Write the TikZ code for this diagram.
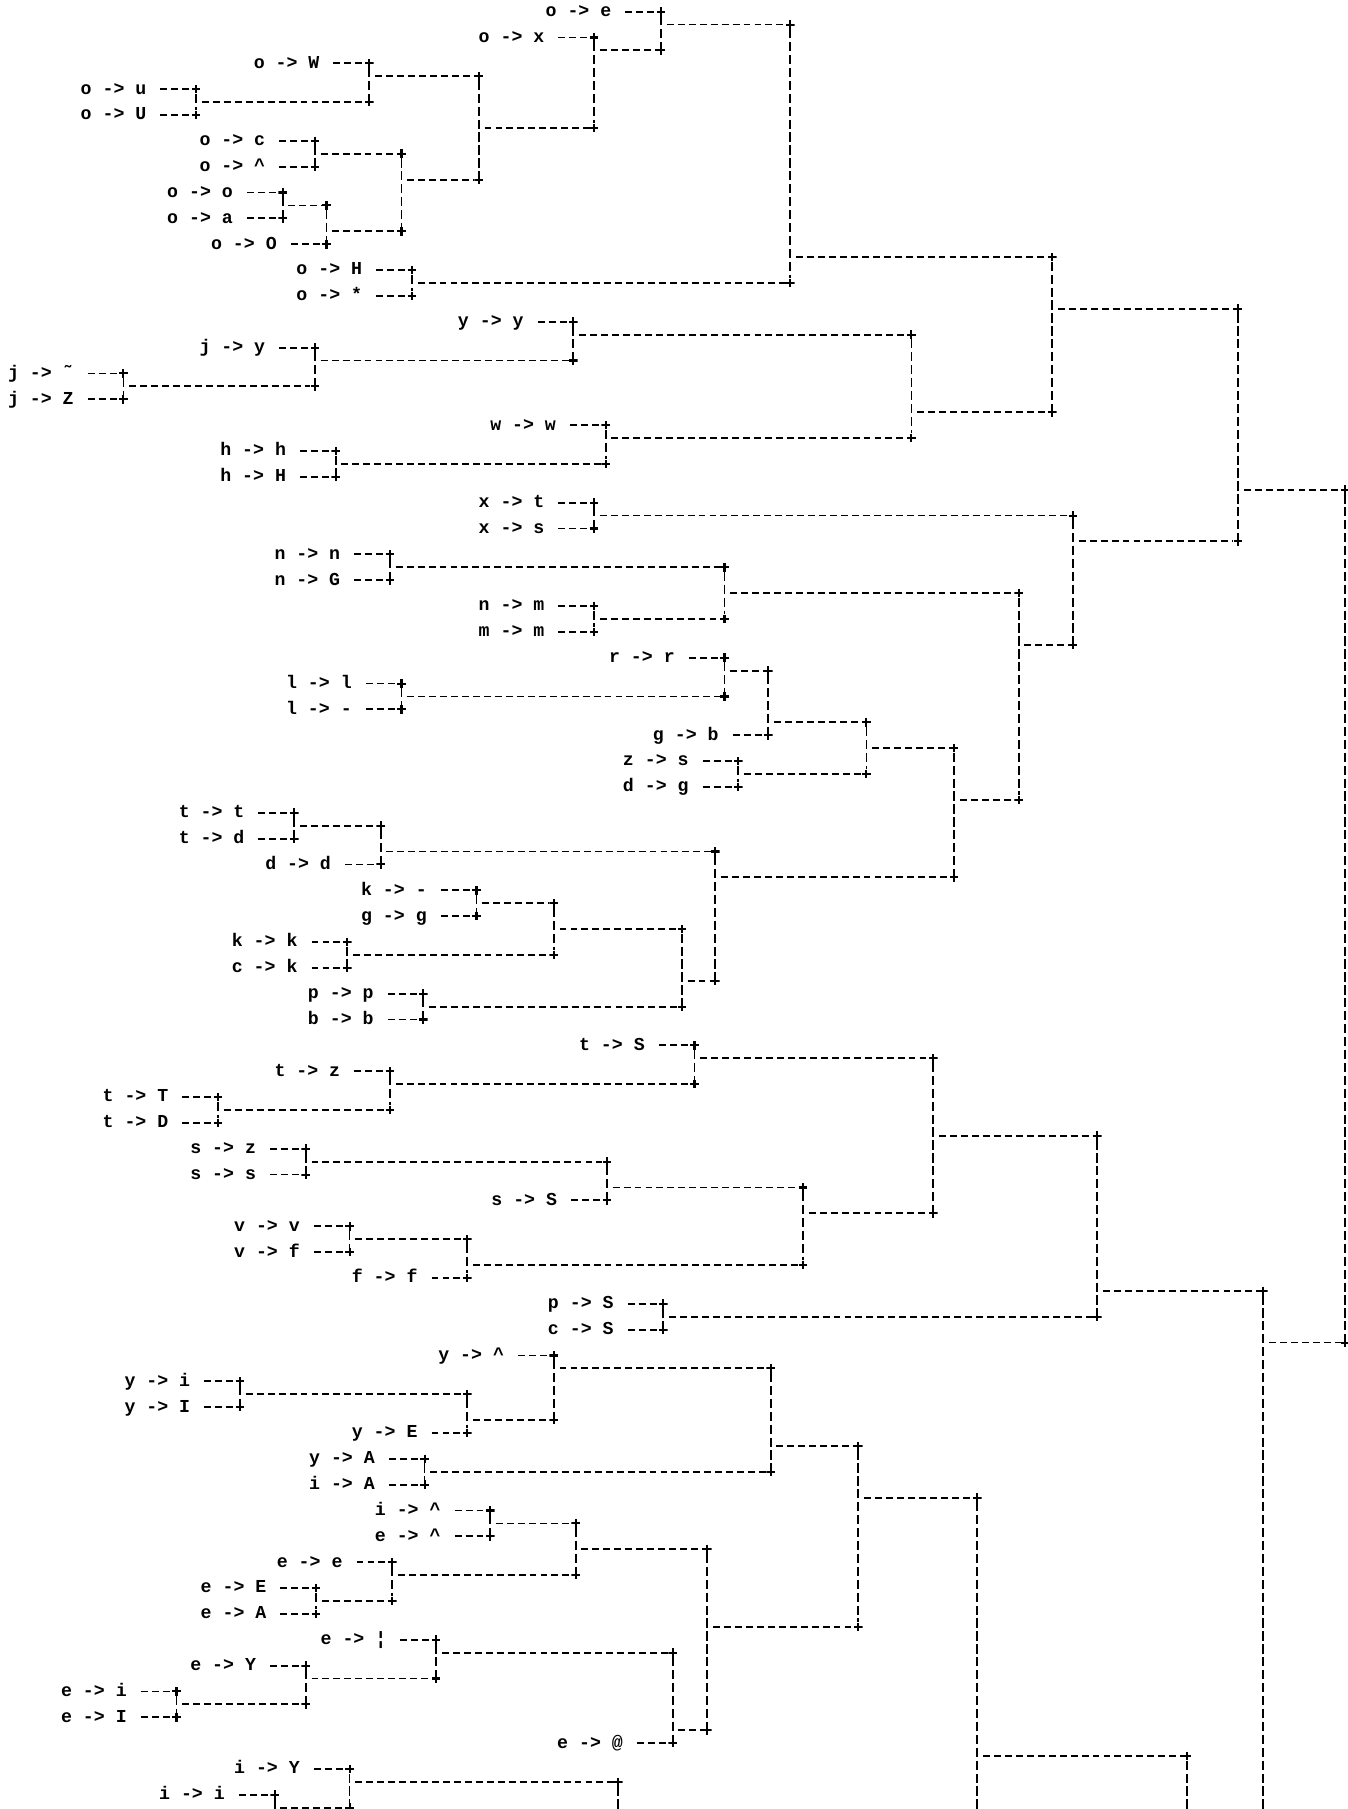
\documentclass[tikz,border=0pt]{standalone}
\usepackage{fontspec}
\setmonofont{Liberation Mono}
\usetikzlibrary{positioning}
\newcommand{\treefont}{\ttfamily\bfseries\fontsize{15.8}{18}\selectfont}

\begin{document}
\begin{tikzpicture}[
    x=1pt, y=-11.2pt,
    leaf/.style={font=\treefont, inner sep=0pt, text height=11pt, text depth=2.5pt},
    pl/.style={rectangle, inner sep=0pt, minimum size=7.5pt,
      path picture={\draw[solid, line width=1.8pt] (path picture bounding box.north) -- (path picture bounding box.south) (path picture bounding box.west) -- (path picture bounding box.east);}},
    hline/.style={line width=1.6pt, dash pattern=on 6pt off 3.5pt},
    vline/.style={line width=1.6pt, dash pattern=on 8pt off 3.2pt},
    lab/.style={leaf, left=39pt of #1}
  ]
  \useasboundingbox[fill=white] (0,-0.9) rectangle (1168,139.1);

  % leaves: + mark at the column of the join, label to its left
  \node[pl] (oe) at (573,0) {};
  \node[lab=oe] (oe-l) {o -> e};
  \node[pl] (ox) at (515,2) {};
  \node[lab=ox] (ox-l) {o -> x};
  \node[pl] (oW) at (320,4) {};
  \node[lab=oW] (oW-l) {o -> W};
  \node[pl] (ou) at (170,6) {};
  \node[lab=ou] (ou-l) {o -> u};
  \node[pl] (oU) at (170,8) {};
  \node[lab=oU] (oU-l) {o -> U};
  \node[pl] (oc) at (273,10) {};
  \node[lab=oc] (oc-l) {o -> c};
  \node[pl] (ocirc) at (273,12) {};
  \node[lab=ocirc] (ocirc-l) {o -> \textasciicircum};
  \node[pl] (oo) at (245,14) {};
  \node[lab=oo] (oo-l) {o -> o};
  \node[pl] (oa) at (245,16) {};
  \node[lab=oa] (oa-l) {o -> a};
  \node[pl] (oO) at (283,18) {};
  \node[lab=oO] (oO-l) {o -> O};
  \node[pl] (oH) at (357,20) {};
  \node[lab=oH] (oH-l) {o -> H};
  \node[pl] (oast) at (357,22) {};
  \node[lab=oast] (oast-l) {o -> *};
  \node[pl] (yy) at (497,24) {};
  \node[lab=yy] (yy-l) {y -> y};
  \node[pl] (jy) at (273,26) {};
  \node[lab=jy] (jy-l) {j -> y};
  \node[pl] (jtil) at (107,28) {};
  \node[lab=jtil] (jtil-l) {j -> ˜};
  \node[pl] (jZ) at (107,30) {};
  \node[lab=jZ] (jZ-l) {j -> Z};
  \node[pl] (ww) at (525,32) {};
  \node[lab=ww] (ww-l) {w -> w};
  \node[pl] (hh) at (291,34) {};
  \node[lab=hh] (hh-l) {h -> h};
  \node[pl] (hH) at (291,36) {};
  \node[lab=hH] (hH-l) {h -> H};
  \node[pl] (xt) at (515,38) {};
  \node[lab=xt] (xt-l) {x -> t};
  \node[pl] (xs) at (515,40) {};
  \node[lab=xs] (xs-l) {x -> s};
  \node[pl] (nn) at (338,42) {};
  \node[lab=nn] (nn-l) {n -> n};
  \node[pl] (nG) at (338,44) {};
  \node[lab=nG] (nG-l) {n -> G};
  \node[pl] (nm) at (515,46) {};
  \node[lab=nm] (nm-l) {n -> m};
  \node[pl] (mm) at (515,48) {};
  \node[lab=mm] (mm-l) {m -> m};
  \node[pl] (rr) at (628,50) {};
  \node[lab=rr] (rr-l) {r -> r};
  \node[pl] (ll) at (348,52) {};
  \node[lab=ll] (ll-l) {l -> l};
  \node[pl] (lhy) at (348,54) {};
  \node[lab=lhy] (lhy-l) {l -> -};
  \node[pl] (gb) at (666,56) {};
  \node[lab=gb] (gb-l) {g -> b};
  \node[pl] (zs) at (640,58) {};
  \node[lab=zs] (zs-l) {z -> s};
  \node[pl] (dg) at (640,60) {};
  \node[lab=dg] (dg-l) {d -> g};
  \node[pl] (tt) at (255,62) {};
  \node[lab=tt] (tt-l) {t -> t};
  \node[pl] (td) at (255,64) {};
  \node[lab=td] (td-l) {t -> d};
  \node[pl] (dd) at (330,66) {};
  \node[lab=dd] (dd-l) {d -> d};
  \node[pl] (khy) at (413,68) {};
  \node[lab=khy] (khy-l) {k -> -};
  \node[pl] (gg) at (413,70) {};
  \node[lab=gg] (gg-l) {g -> g};
  \node[pl] (kk) at (301,72) {};
  \node[lab=kk] (kk-l) {k -> k};
  \node[pl] (ck) at (301,74) {};
  \node[lab=ck] (ck-l) {c -> k};
  \node[pl] (pp) at (367,76) {};
  \node[lab=pp] (pp-l) {p -> p};
  \node[pl] (bb) at (367,78) {};
  \node[lab=bb] (bb-l) {b -> b};
  \node[pl] (tS) at (602,80) {};
  \node[lab=tS] (tS-l) {t -> S};
  \node[pl] (tz) at (338,82) {};
  \node[lab=tz] (tz-l) {t -> z};
  \node[pl] (tT) at (189,84) {};
  \node[lab=tT] (tT-l) {t -> T};
  \node[pl] (tD) at (189,86) {};
  \node[lab=tD] (tD-l) {t -> D};
  \node[pl] (sz) at (265,88) {};
  \node[lab=sz] (sz-l) {s -> z};
  \node[pl] (ss) at (265,90) {};
  \node[lab=ss] (ss-l) {s -> s};
  \node[pl] (sS) at (526,92) {};
  \node[lab=sS] (sS-l) {s -> S};
  \node[pl] (vv) at (303,94) {};
  \node[lab=vv] (vv-l) {v -> v};
  \node[pl] (vf) at (303,96) {};
  \node[lab=vf] (vf-l) {v -> f};
  \node[pl] (ff) at (405,98) {};
  \node[lab=ff] (ff-l) {f -> f};
  \node[pl] (pS) at (575,100) {};
  \node[lab=pS] (pS-l) {p -> S};
  \node[pl] (cS) at (575,102) {};
  \node[lab=cS] (cS-l) {c -> S};
  \node[pl] (ycirc) at (480,104) {};
  \node[lab=ycirc] (ycirc-l) {y -> \textasciicircum};
  \node[pl] (yi) at (208,106) {};
  \node[lab=yi] (yi-l) {y -> i};
  \node[pl] (yI) at (208,108) {};
  \node[lab=yI] (yI-l) {y -> I};
  \node[pl] (yE) at (405,110) {};
  \node[lab=yE] (yE-l) {y -> E};
  \node[pl] (yA) at (368,112) {};
  \node[lab=yA] (yA-l) {y -> A};
  \node[pl] (iA) at (368,114) {};
  \node[lab=iA] (iA-l) {i -> A};
  \node[pl] (icirc) at (425,116) {};
  \node[lab=icirc] (icirc-l) {i -> \textasciicircum};
  \node[pl] (ecirc) at (425,118) {};
  \node[lab=ecirc] (ecirc-l) {e -> \textasciicircum};
  \node[pl] (ee) at (340,120) {};
  \node[lab=ee] (ee-l) {e -> e};
  \node[pl] (eE) at (274,122) {};
  \node[lab=eE] (eE-l) {e -> E};
  \node[pl] (eA) at (274,124) {};
  \node[lab=eA] (eA-l) {e -> A};
  \node[pl] (ebar) at (378,126) {};
  \node[lab=ebar] (ebar-l) {e -> ¦};
  \node[pl] (eY) at (265,128) {};
  \node[lab=eY] (eY-l) {e -> Y};
  \node[pl] (ei) at (153,130) {};
  \node[lab=ei] (ei-l) {e -> i};
  \node[pl] (eI) at (153,132) {};
  \node[lab=eI] (eI-l) {e -> I};
  \node[pl] (eat) at (583,134) {};
  \node[lab=eat] (eat-l) {e -> @};
  \node[pl] (iY) at (303,136) {};
  \node[lab=iY] (iY-l) {i -> Y};
  \node[pl] (ii) at (238,138) {};
  \node[lab=ii] (ii-l) {i -> i};

  \foreach \n in {oe,ox,oW,ou,oU,oc,ocirc,oo,oa,oO,oH,oast,yy,jy,jtil,jZ,ww,hh,hH,
      xt,xs,nn,nG,nm,mm,rr,ll,lhy,gb,zs,dg,tt,td,dd,khy,gg,kk,ck,pp,bb,
      tS,tz,tT,tD,sz,ss,sS,vv,vf,ff,pS,cS,ycirc,yi,yI,yE,yA,iA,icirc,ecirc,
      ee,eE,eA,ebar,eY,ei,eI,eat,iY,ii}
    \draw[hline] ([xshift=12pt]\n-l.east) -- (\n);

  % joins: + mark where the merged cluster reaches the next column
  \node[pl] (j1) at (320,7) {};
  \node[pl] (j2) at (415,5) {};
  \node[pl] (j3) at (348,11) {};
  \node[pl] (j4) at (283,15) {};
  \node[pl] (j5) at (348,17) {};
  \node[pl] (j6) at (415,13) {};
  \node[pl] (j7) at (515,9) {};
  \node[pl] (j8) at (573,3) {};
  \node[pl] (j9) at (685,1) {};
  \node[pl] (j10) at (685,21) {};
  \node[pl] (j11) at (912,19) {};
  \node[pl] (j12) at (273,29) {};
  \node[pl] (j13) at (497,27) {};
  \node[pl] (j14) at (790,25) {};
  \node[pl] (j15) at (525,35) {};
  \node[pl] (j16) at (790,33) {};
  \node[pl] (j17) at (912,31) {};
  \node[pl] (j18) at (1073,23) {};
  \node[pl] (j19) at (930,39) {};
  \node[pl] (j20) at (628,43) {};
  \node[pl] (j21) at (628,47) {};
  \node[pl] (j22) at (883,45) {};
  \node[pl] (j23) at (628,53) {};
  \node[pl] (j24) at (666,51) {};
  \node[pl] (j25) at (751,55) {};
  \node[pl] (j26) at (751,59) {};
  \node[pl] (j27) at (827,57) {};
  \node[pl] (j28) at (330,63) {};
  \node[pl] (j29) at (620,65) {};
  \node[pl] (j30) at (480,69) {};
  \node[pl] (j31) at (480,73) {};
  \node[pl] (j32) at (591,71) {};
  \node[pl] (j33) at (591,77) {};
  \node[pl] (j34) at (620,75) {};
  \node[pl] (j35) at (827,67) {};
  \node[pl] (j36) at (883,61) {};
  \node[pl] (j37) at (930,49) {};
  \node[pl] (j38) at (1073,41) {};
  \node[pl] (j39) at (1166,37) {};
  \node[pl] (j40) at (338,85) {};
  \node[pl] (j41) at (602,83) {};
  \node[pl] (j42) at (809,81) {};
  \node[pl] (j43) at (526,89) {};
  \node[pl] (j44) at (696,91) {};
  \node[pl] (j45) at (405,95) {};
  \node[pl] (j46) at (696,97) {};
  \node[pl] (j47) at (809,93) {};
  \node[pl] (j48) at (951,87) {};
  \node[pl] (j49) at (951,101) {};
  \node[pl] (j50) at (1095,99) {};
  \node[pl] (j51) at (405,107) {};
  \node[pl] (j52) at (480,109) {};
  \node[pl] (j53) at (668,105) {};
  \node[pl] (j54) at (668,113) {};
  \node[pl] (j55) at (744,111) {};
  \node[pl] (j56) at (499,117) {};
  \node[pl] (j57) at (340,123) {};
  \node[pl] (j58) at (499,121) {};
  \node[pl] (j59) at (613,119) {};
  \node[pl] (j60) at (265,131) {};
  \node[pl] (j61) at (378,129) {};
  \node[pl] (j62) at (583,127) {};
  \node[pl] (j63) at (613,133) {};
  \node[pl] (j64) at (744,125) {};
  \node[pl] (j65) at (847,115) {};
  \node[pl] (j66) at (1029,135) {};
  \node[pl] (j67) at (1166,103) {};
  \node[pl] (j68) at (303,139) {};
  \node[pl] (j69) at (536,137) {};

  % branches that run on below the page
  \coordinate (o238) at (238,141);
  \coordinate (o536) at (536,141);
  \coordinate (o847) at (847,141);
  \coordinate (o1029) at (1029,141);
  \coordinate (o1095) at (1095,141);

  % top/bottom child, then the merged node
  \foreach \a/\b/\j in {ou/oU/j1, oW/j1/j2, oc/ocirc/j3, oo/oa/j4, j4/oO/j5,
      j3/j5/j6, j2/j6/j7, ox/j7/j8, oe/j8/j9, oH/oast/j10, j9/j10/j11,
      jtil/jZ/j12, jy/j12/j13, yy/j13/j14, hh/hH/j15, ww/j15/j16, j14/j16/j17,
      j11/j17/j18, xt/xs/j19, nn/nG/j20, nm/mm/j21, j20/j21/j22, ll/lhy/j23,
      rr/j23/j24, j24/gb/j25, zs/dg/j26, j25/j26/j27, tt/td/j28, j28/dd/j29,
      khy/gg/j30, kk/ck/j31, j30/j31/j32, pp/bb/j33, j32/j33/j34, j29/j34/j35,
      j27/j35/j36, j22/j36/j37, j19/j37/j38, j18/j38/j39, tT/tD/j40,
      tz/j40/j41, tS/j41/j42, sz/ss/j43, j43/sS/j44, vv/vf/j45, j45/ff/j46,
      j44/j46/j47, j42/j47/j48, pS/cS/j49, j48/j49/j50, yi/yI/j51,
      j51/yE/j52, ycirc/j52/j53, yA/iA/j54, j53/j54/j55, icirc/ecirc/j56,
      eE/eA/j57, ee/j57/j58, j56/j58/j59, ei/eI/j60, eY/j60/j61,
      ebar/j61/j62, j62/eat/j63, j59/j63/j64, j55/j64/j65,
      j65/o847/j66, j50/o1095/j67, ii/o238/j68, iY/j68/j69} {
    \draw[vline] (\a) -- (\b);
    \draw[hline] ([xshift=5pt]\a |- \j) -- (\j);
  }
  \draw[vline] (j39) -- (j67);
  \draw[vline] (j66) -- (o1029);
  \draw[vline] (j69) -- (o536);
\end{tikzpicture}
\end{document}
